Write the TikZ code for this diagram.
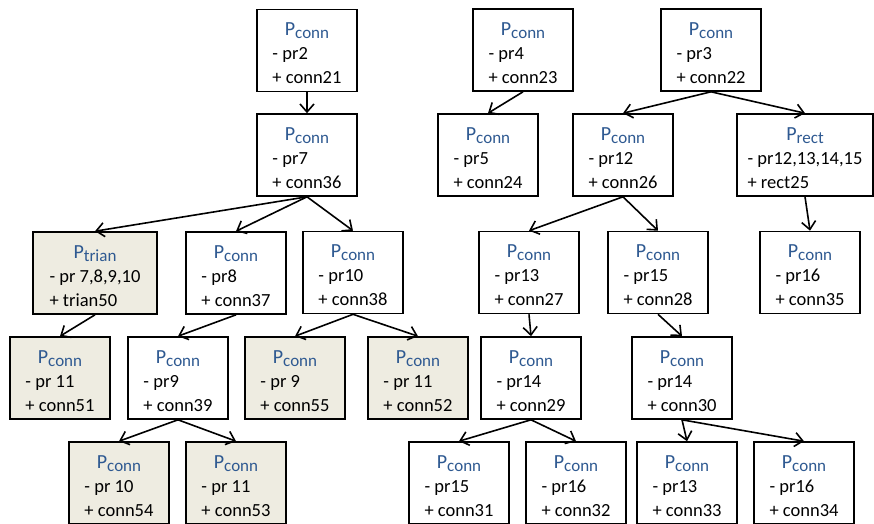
\documentclass[tikz,border=0pt]{standalone}
\usepackage{fontspec}
\setmainfont{Carlito}
\usetikzlibrary{arrows.meta}

\definecolor{pblue}{RGB}{46,89,145}
\definecolor{pfill}{RGB}{238,236,225}

\newcommand{\ptext}[3]{\begin{tabular}[t]{@{}l@{}}\multicolumn{1}{@{}c@{}}{\textcolor{pblue}{\fontsize{20}{24}\selectfont P\raisebox{-3pt}{\fontsize{17}{17}\selectfont #1}}}\\- #2\\+ #3\end{tabular}}

\tikzset{every picture/.style={line width=1.6pt}}
\tikzset{
  pbox/.style={draw, fill=white, minimum width=100pt, inner xsep=0pt, inner ysep=0pt,
    text height=26pt, text depth=56pt, font=\fontsize{18.5}{24}\selectfont},
  pgrey/.style={pbox, fill=pfill},
  parrow/.style={-{Straight Barb[length=8pt,width=14pt]}}
}

\begin{document}
\begin{tikzpicture}[x=1pt,y=1pt,yscale=-1]
\useasboundingbox (0,0) rectangle (874,523);

%Row 1
\node[pbox] (c21) at (307,50.5) {\ptext{conn}{pr2}{conn21}};
\node[pbox] (c23) at (523,50) {\ptext{conn}{pr4}{conn23}};
\node[pbox] (c22) at (711,50) {\ptext{conn}{pr3}{conn22}};
%Row 2
\node[pbox] (c36) at (307,155) {\ptext{conn}{pr7}{conn36}};
\node[pbox] (c24) at (488,155) {\ptext{conn}{pr5}{conn24}};
\node[pbox] (c26) at (623,155) {\ptext{conn}{pr12}{conn26}};
\node[pbox, minimum width=136pt] (r25) at (805,155) {\ptext{rect}{pr12,13,14,15}{rect25}};
%Row 3
\node[pgrey, minimum width=124pt] (t50) at (95,273) {\ptext{trian}{pr 7,8,9,10}{trian50}};
\node[pbox] (c37) at (236,273) {\ptext{conn}{pr8}{conn37}};
\node[pbox] (c38) at (353,272.5) {\ptext{conn}{pr10}{conn38}};
\node[pbox] (c27) at (529,272.5) {\ptext{conn}{pr13}{conn27}};
\node[pbox] (c28) at (658,272.5) {\ptext{conn}{pr15}{conn28}};
\node[pbox] (c35) at (810,272.5) {\ptext{conn}{pr16}{conn35}};
%Row 4
\node[pgrey] (c51) at (60,378) {\ptext{conn}{pr 11}{conn51}};
\node[pbox] (c39) at (178,378) {\ptext{conn}{pr9}{conn39}};
\node[pgrey] (c55) at (295,378) {\ptext{conn}{pr 9}{conn55}};
\node[pgrey] (c52) at (418,378) {\ptext{conn}{pr 11}{conn52}};
\node[pbox] (c29) at (531,378) {\ptext{conn}{pr14}{conn29}};
\node[pbox] (c30) at (682,378) {\ptext{conn}{pr14}{conn30}};
%Row 5
\node[pgrey] (c54) at (119,483) {\ptext{conn}{pr 10}{conn54}};
\node[pgrey] (c53) at (236,483) {\ptext{conn}{pr 11}{conn53}};
\node[pbox] (c31) at (459,483) {\ptext{conn}{pr15}{conn31}};
\node[pbox] (c32) at (576,483) {\ptext{conn}{pr16}{conn32}};
\node[pbox] (c33) at (687,483) {\ptext{conn}{pr13}{conn33}};
\node[pbox] (c34) at (804,483) {\ptext{conn}{pr16}{conn34}};

%Arrows
\draw[parrow] (c21.south) -- (c36.north);
\draw[parrow] (c23.south) -- (c24.north);
\draw[parrow] (c22.south) -- (c26.north);
\draw[parrow] (c22.south) -- (r25.north);
\draw[parrow] (c36.south) -- (t50.north);
\draw[parrow] (c36.south) -- (c37.north);
\draw[parrow] (c36.south) -- (c38.north);
\draw[parrow] (c26.south) -- (c27.north);
\draw[parrow] (c26.south) -- (c28.north);
\draw[parrow] (r25.south) -- (c35.north);
\draw[parrow] (t50.south) -- (c51.north);
\draw[parrow] (c37.south) -- (c39.north);
\draw[parrow] (c38.south) -- (c55.north);
\draw[parrow] (c38.south) -- (c52.north);
\draw[parrow] (c27.south) -- (c29.north);
\draw[parrow] (c28.south) -- (c30.north);
\draw[parrow] (c39.south) -- (c54.north);
\draw[parrow] (c39.south) -- (c53.north);
\draw[parrow] (c29.south) -- (c31.north);
\draw[parrow] (c29.south) -- (c32.north);
\draw[parrow] (c30.south) -- (c33.north);
\draw[parrow] (c30.south) -- (c34.north);

\end{tikzpicture}
\end{document}
